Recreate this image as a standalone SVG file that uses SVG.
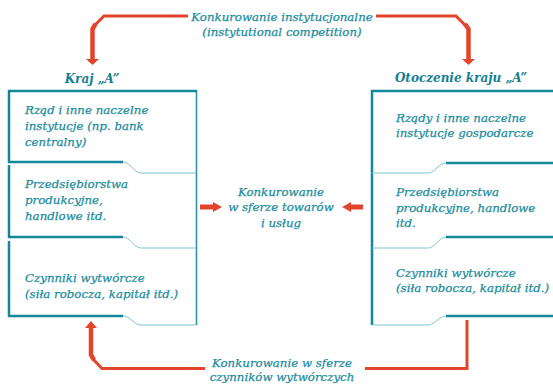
<svg xmlns="http://www.w3.org/2000/svg" width="553" height="385" viewBox="0 0 553 385">
<style>
.t{font-family:"DejaVu Serif",serif;font-style:italic;font-size:11.8px;fill:#1a8c9c;stroke:#1a8c9c;stroke-width:0.25}
.h{font-family:"DejaVu Serif",serif;font-style:italic;font-weight:bold;font-size:12px;fill:#14808f}
.thick{fill:none;stroke:#13889a;stroke-width:2.5}
.thin{fill:none;stroke:#7fc4d0;stroke-width:1}
.edge{fill:none;stroke:#2a95a5;stroke-width:1.6}
.red{fill:none;stroke:#e1452c}
.redh{fill:#e1452c}
</style>
<rect width="553" height="385" fill="#fff"/>
<g id="left-block">
<text class="h" x="92" y="83" text-anchor="middle">Kraj „A”</text>
<path class="edge" d="M196.5,91 V325"/>
<path class="thick" d="M197,91 H9 V162 H123"/>
<path class="thin" d="M123,162 C130,162 134,173 141,173 H196"/>
<path class="thick" d="M9,165 V237 H123"/>
<path class="thin" d="M123,237 C130,237 134,248 141,248 H196"/>
<path class="thick" d="M9,241 V316 H123"/>
<path class="thin" d="M123,316 C130,316 134,325 141,325 H196"/>
<g id="l1"><text class="t" x="25" y="114">Rząd i inne naczelne</text><text class="t" x="25" y="130">instytucje (np. bank</text><text class="t" x="25" y="146">centralny)</text></g>
<g id="l2"><text class="t" x="25" y="188">Przedsiębiorstwa</text><text class="t" x="25" y="204">produkcyjne,</text><text class="t" x="25" y="220">handlowe itd.</text></g>
<g id="l3"><text class="t" x="25" y="282">Czynniki wytwórcze</text><text class="t" x="25" y="298">(siła robocza, kapitał itd.)</text></g>
</g>
<g id="right-block">
<text class="h" x="461" y="82" text-anchor="middle">Otoczenie kraju „A”</text>
<path class="thick" d="M555,91 H372 V325"/>
<path class="thin" d="M372,173 H428 C435,173 439,163 446,163"/>
<path class="thick" d="M446,163 H555"/>
<path class="thin" d="M372,248 H428 C435,248 439,237 446,237"/>
<path class="thick" d="M446,237 H555"/>
<path class="thin" d="M372,325 H428 C435,325 439,316 446,316"/>
<path class="thick" d="M446,316 H555"/>
<g id="r1"><text class="t" x="396" y="122">Rządy i inne naczelne</text><text class="t" x="396" y="137">instytucje gospodarcze</text></g>
<g id="r2"><text class="t" x="396" y="196">Przedsiębiorstwa</text><text class="t" x="396" y="212">produkcyjne, handlowe</text><text class="t" x="396" y="227">itd.</text></g>
<g id="r3"><text class="t" x="396" y="277">Czynniki wytwórcze</text><text class="t" x="396" y="292">(siła robocza, kapitał itd.)</text></g>
</g>
<g id="center-label">
<text class="t" x="281" y="196" text-anchor="middle">Konkurowanie</text>
<text class="t" x="281" y="211" text-anchor="middle">w sferze towarów</text>
<text class="t" x="281" y="227" text-anchor="middle">i usług</text>
</g>
<g id="top-label">
<text class="t" x="282" y="21" text-anchor="middle">Konkurowanie instytucjonalne</text>
<text class="t" x="282" y="36" text-anchor="middle">(instytutional competition)</text>
</g>
<g id="bottom-label">
<text class="t" x="282" y="367" text-anchor="middle">Konkurowanie w sferze</text>
<text class="t" x="282" y="381" text-anchor="middle">czynników wytwórczych</text>
</g>
<g id="connectors">
<path class="red" style="stroke-width:3" d="M188,16 H104 L95,25"/>
<path class="red" style="stroke-width:4.5" d="M95.5,24 L92.5,29 V60"/>
<path class="redh" d="M86,59 H99 L92.5,65 Z"/>
<path class="red" style="stroke-width:3" d="M376,16 H456 L465,25"/>
<path class="red" style="stroke-width:4.5" d="M465,24 L468.5,29 V60"/>
<path class="redh" d="M462,59 H475 L468.5,65 Z"/>
<path class="red" style="stroke-width:3" d="M205,368.5 H102 L93,359"/>
<path class="red" style="stroke-width:4.5" d="M94,360 L91,355 V327"/>
<path class="redh" d="M85,328 H97 L91,321 Z"/>
<path class="red" style="stroke-width:3" d="M365,368.5 H467 V320"/>
<path class="red" style="stroke-width:5" d="M200,207 H214"/>
<path class="redh" d="M213,202 L222,207 L213,212 Z"/>
<path class="red" style="stroke-width:5" d="M363,207 H350"/>
<path class="redh" d="M351,202 L342,207 L351,212 Z"/>
</g>
</svg>
